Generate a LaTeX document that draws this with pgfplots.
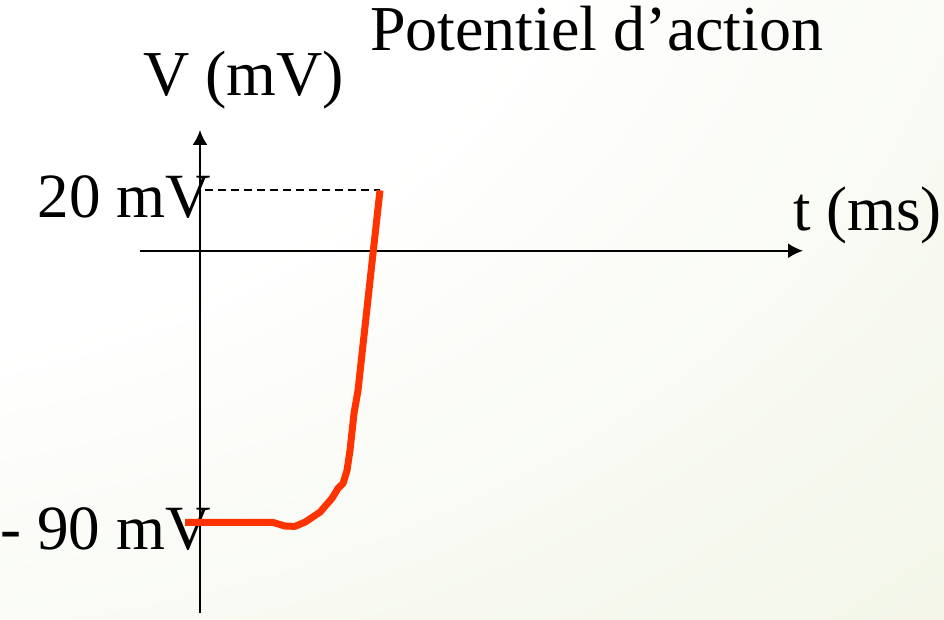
\documentclass[border=0pt]{standalone}
\usepackage{pgfplots}
\pgfplotsset{compat=1.18}
\usepackage{fontspec}
\setmainfont{Liberation Serif}
\usetikzlibrary{arrows.meta}
\definecolor{bggreen}{HTML}{E6EDD2}
\definecolor{apred}{HTML}{FF3300}
\pgfdeclareradialshading{bgshade}{\pgfpoint{-50bp}{50bp}}{color(0bp)=(white); color(45bp)=(white); color(115bp)=(bggreen); color(220bp)=(bggreen)}
\newcommand{\tickfont}{\fontsize{63}{63}\selectfont}
\newcommand{\bigfont}{\fontsize{64}{64}\selectfont}
\begin{document}
\begin{tikzpicture}
\shade[shading=bgshade] (0pt,0pt) rectangle (944pt,620pt);
\useasboundingbox (0pt,0pt) rectangle (944pt,620pt);
\begin{axis}[
  at={(140pt,7pt)}, anchor=south west,
  scale only axis, width=663pt, height=483pt,
  xmin=-0.6, xmax=6.03, ymin=-120, ymax=40,
  axis lines=middle,
  axis line style={line width=2pt, -{Latex[length=15pt,width=15pt]}},
  xtick=\empty,
  ytick={-90,20},
  yticklabels={- 90 mV, 20 mV},
  major tick length=0pt,
  yticklabel style={anchor=base east, inner sep=0pt, xshift=11pt, yshift=-27pt, font=\tickfont},
  xlabel={t (ms)},
  ylabel={V (mV)},
  title={Potentiel d’action},
  every axis x label/.style={at={(axis cs:5.93,6.76)}, anchor=base west, inner sep=0pt, font=\tickfont},
  every axis y label/.style={at={(axis cs:-0.57,51.5)}, anchor=base west, inner sep=0pt, font=\bigfont},
  every axis title/.style={at={(axis cs:1.70,66.4)}, anchor=base west, inner sep=0pt, font=\bigfont},
  clip=false,
]
\addplot[black, line width=1.8pt, dash pattern=on 8pt off 5pt] coordinates {(0.05,20) (1.80,20)};
\addplot[apred, line width=7pt, line join=round] coordinates {
  (-0.15,-90) (0.73,-90) (0.85,-91.2) (0.95,-91.3) (1.05,-89.9) (1.20,-86.6)
  (1.32,-82.0) (1.38,-78.7) (1.43,-77.1) (1.47,-72.8) (1.50,-66.1) (1.54,-53.9)
  (1.58,-46.3) (1.733,0) (1.80,20)
};
\end{axis}
\end{tikzpicture}
\end{document}
